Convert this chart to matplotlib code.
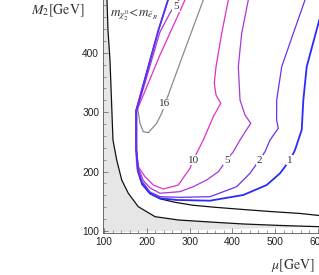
import matplotlib
matplotlib.use("Agg")
import matplotlib.pyplot as plt
from matplotlib.ticker import MultipleLocator

plt.rcParams["mathtext.fontset"] = "stix"

SHADE = "#e6e6e6"
AXIS  = "#555555"
TEXT  = "#222222"
COL = {
    1:  "#2a2aff",
    2:  "#6a30f0",
    5:  "#a838d8",
    10: "#e030c8",
    16: "#8a8a8a",
}

# ── data ────────────────────────────────────────────────────────────
# lower black curve, edge of the shaded region
excl_mu = [107, 109.3, 114, 121, 129.7, 141.4, 156.8, 180.1, 219.2, 273.6,
           359.3, 424.8, 511.2, 602.3]
excl_m2 = [489, 438.4, 388, 253, 219.5, 185.9, 163.5, 140.9, 124.1, 118.5,
           114.6, 111.8, 109.3, 107.2]

# upper black curve
ub_mu = [188.8, 207.5, 230.8, 265.9, 307.9, 359.3, 424.8, 487.9, 557.9, 602.3]
ub_m2 = [179.1, 163.1, 154.2, 148.3, 143.3, 139.9, 136.2, 132.8, 129.5, 126.1]

# gray edge of the m_chi2 < m_eR region (vertical part)
edge_mu = [175.0, 175.0, 178.0, 186.0, 200.0]
edge_m2 = [303.0, 236.0, 205.0, 186.0, 172.0]

# contours
c1_mu = [249.5, 226.9, 175.5, 175.5, 179.4, 188.8, 207.5, 230.8, 269.9, 347.7,
         425.5, 480.1, 511.2, 534.6, 546.3, 554.0, 561.9, 565.7, 573.6, 603.0]
c1_m2 = [488.9, 437.4, 303.7, 236.4, 201.0, 179.1, 163.1, 155.0, 152.2, 151.0,
         160.6, 177.4, 197.1, 219.5, 236.4, 253.2, 270.0, 320.5, 376.6, 455.2]

c2_mu = [249.5, 226.9, 175.5, 175.5, 179.4, 188.8, 207.5, 230.8, 277.6, 347.7,
         410.0, 441.1, 462.9, 476.2, 487.9, 507.2, 503.3, 503.5, 515.2, 542.3, 569.6]
c2_m2 = [488.9, 437.4, 303.7, 236.4, 202.7, 182.5, 165.7, 157.7, 156.7, 157.7,
         174.6, 197.1, 219.5, 233.5, 253.2, 272.9, 287.0, 320.5, 376.6, 432.8, 488.9]

c5_mu = [275.2, 254.2, 230.8, 177.1, 175.9, 175.9, 180.6, 191.1, 207.5, 230.8,
         277.6, 308.6, 340.0, 367.1, 386.7, 402.1, 417.8, 442.8, 429.4, 417.8,
         413.8, 421.7, 437.1]
c5_m2 = [488.9, 467.0, 435.0, 303.7, 302.0, 236.4, 206.1, 185.9, 172.4, 163.5,
         166.2, 174.6, 185.9, 199.8, 219.5, 233.5, 253.2, 281.3, 295.3, 320.5,
         376.6, 432.8, 488.9]

c10_mu = [289.2, 230.8, 179.4, 175.9, 175.9, 180.1, 195.8, 215.2, 238.5, 273.6,
          300.9, 308.6, 320.3, 332.0, 355.4, 372.7, 361.7, 357.7, 361.7, 375.0, 390.4]
c10_m2 = [488.9, 396.3, 307.1, 302.0, 236.4, 208.2, 191.4, 177.4, 170.7, 177.4,
          205.6, 219.5, 236.4, 253.2, 292.4, 315.0, 329.0, 348.7, 376.6, 432.8, 488.9]

c16_mu = [178.7, 184.1, 191.8, 203.5, 223.1, 234.8, 242.5, 250.2, 290.4, 332.0]
c16_m2 = [306.6, 281.3, 267.2, 265.5, 281.3, 298.2, 313.8, 329.0, 408.1, 488.9]

# contour label: value, mu, M2
labels = [
    ("10", 308.6, 219.5),
    ("5",  386.7, 219.5),
    ("2",  462.9, 219.5),
    ("1",  534.6, 219.5),
    ("16", 242.5, 313.8),
    ("5",  268.2, 478.3),
]

# ── figure ──────────────────────────────────────────────────────────
fig = plt.figure(figsize=(3.19, 2.75), dpi=100)
fig.patch.set_facecolor("white")
ax = fig.add_axes([103.3 / 319, 42.3 / 275, 215.7 / 319, 232.7 / 275])
ax.set_xlim(98.4, 602.3)
ax.set_ylim(97.1, 488.9)

# shaded region
ax.fill(excl_mu + [98.4, 98.4], excl_m2 + [97.1, 488.9], color=SHADE, lw=0, zorder=1)
ax.plot(excl_mu, excl_m2, color="#111111", lw=0.9, zorder=3)
ax.plot(ub_mu, ub_m2, color="#111111", lw=0.9, zorder=3)
ax.plot(edge_mu, edge_m2, color="#9a9a9a", lw=1.6, zorder=2)

ax.plot(c16_mu, c16_m2, color=COL[16], lw=0.9, zorder=3)
ax.plot(c10_mu, c10_m2, color=COL[10], lw=0.9, zorder=3)
ax.plot(c5_mu, c5_m2, color=COL[5], lw=0.9, zorder=4)
ax.plot(c1_mu, c1_m2, color=COL[1], lw=1.3, zorder=4)
ax.plot(c2_mu, c2_m2, color=COL[2], lw=0.9, zorder=5)

for txt, x, y in labels:
    ax.text(x, y, txt, fontsize=8, family="Liberation Serif", color="#333333",
            ha="center", va="center", zorder=6,
            bbox=dict(facecolor="white", edgecolor="none", pad=0.6))

ax.text(113, 463, r"$m_{\chi_2^0}\!<\!m_{\tilde{e}_R}$", fontsize=9.5,
        color="#333333", ha="left", va="center", zorder=2)

# axes styling
for sp in ["top", "right"]:
    ax.spines[sp].set_visible(False)
for sp in ["left", "bottom"]:
    ax.spines[sp].set_color(AXIS)
    ax.spines[sp].set_linewidth(0.6)
ax.set_xticks([100, 200, 300, 400, 500, 600])
ax.set_yticks([100, 200, 300, 400])
ax.xaxis.set_minor_locator(MultipleLocator(20))
ax.yaxis.set_minor_locator(MultipleLocator(20))
ax.tick_params(which="major", direction="in", length=3.5, width=0.5, color=AXIS,
               labelsize=7.3, labelcolor=TEXT, pad=3)
ax.tick_params(which="minor", direction="in", length=2, width=0.4, color=AXIS)
for t in ax.get_xticklabels() + ax.get_yticklabels():
    t.set_family("Liberation Sans")

fig.text(58 / 319, 1 - 11 / 275, r"$M_2[\mathrm{GeV}]$", fontsize=10,
         color="#333333", ha="center", va="center")
fig.text(293 / 319, 1 - 266 / 275, r"$\mu[\mathrm{GeV}]$", fontsize=10,
         color="#333333", ha="center", va="center")

fig.savefig("out.png", dpi=100, facecolor="white")
